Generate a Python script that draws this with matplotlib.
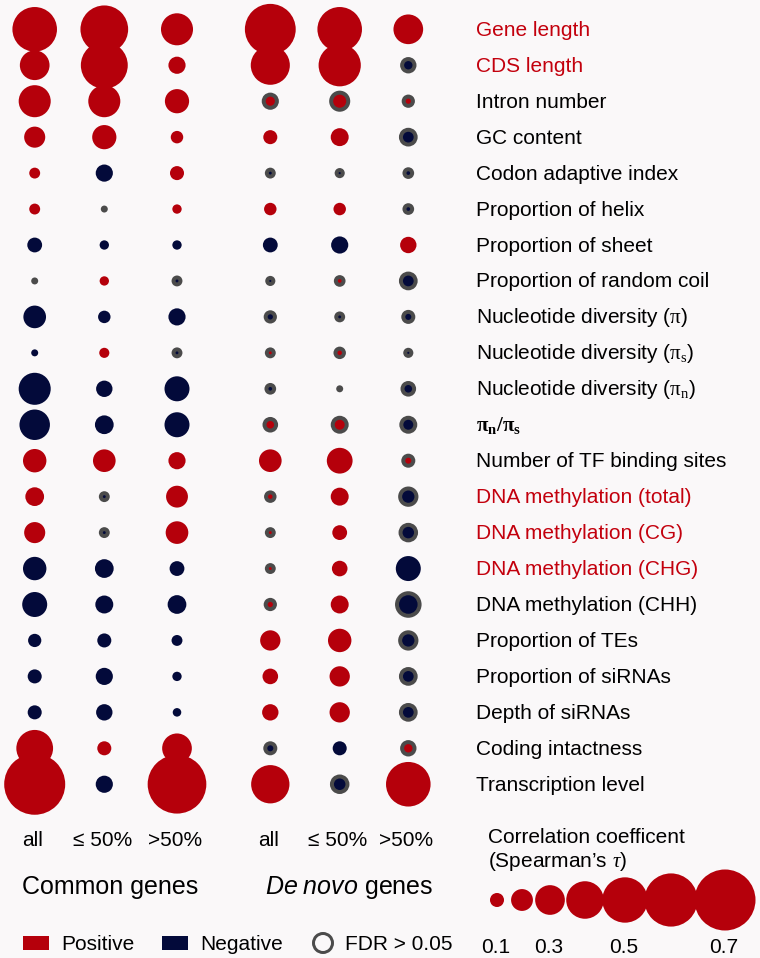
import numpy as np
import matplotlib.pyplot as plt
from matplotlib.patches import Rectangle

plt.rcParams['font.family'] = ['Liberation Sans', 'DejaVu Sans']
plt.rcParams['mathtext.fontset'] = 'custom'
plt.rcParams['mathtext.rm'] = 'Liberation Serif'
plt.rcParams['mathtext.it'] = 'Liberation Serif:italic'
plt.rcParams['mathtext.bf'] = 'Liberation Serif:bold'
plt.rcParams['mathtext.sf'] = 'Liberation Sans:italic'

# ---- data ----
features = ['Gene length', 'CDS length', 'Intron number', 'GC content',
            'Codon adaptive index', 'Proportion of helix', 'Proportion of sheet',
            'Proportion of random coil', r'Nucleotide diversity ($\mathrm{\pi}$)',
            r'Nucleotide diversity ($\mathrm{\pi_s}$)',
            r'Nucleotide diversity ($\mathrm{\pi_n}$)',
            r'$\mathbf{\pi_n/\pi_s}$', 'Number of TF binding sites',
            'DNA methylation (total)', 'DNA methylation (CG)', 'DNA methylation (CHG)',
            'DNA methylation (CHH)', 'Proportion of TEs', 'Proportion of siRNAs',
            'Depth of siRNAs', 'Coding intactness', 'Transcription level']
red_features = [0, 1, 13, 14, 15]
column_labels = ['all', '≤ 50%', '>50%', 'all', '≤ 50%', '>50%']
group_labels = ['Common genes', r'$\mathsf{De\ novo}$ genes']

# Spearman's tau, one list per column (rows follow `features`)
common_all = [0.49, 0.30, 0.33, 0.19, 0.06, 0.06, -0.11, -0.01, -0.21, -0.01, -0.33,
              -0.31, 0.22, 0.16, 0.19, -0.22, -0.24, -0.09, -0.10, -0.10, 0.39, 0.70]
common_le50 = [0.53, 0.52, 0.33, 0.23, -0.14, -0.01, -0.04, 0.04, -0.08, 0.05, -0.13,
               -0.16, 0.21, -0.06, -0.06, -0.16, -0.15, -0.10, -0.14, -0.13, 0.10, -0.14]
common_gt50 = [0.33, 0.14, 0.23, 0.08, 0.10, 0.04, -0.04, -0.06, -0.14, -0.06, -0.24,
               -0.24, 0.14, 0.20, 0.21, -0.11, -0.16, -0.06, -0.04, -0.03, 0.30, 0.67]
denovo_all = [0.57, 0.42, 0.14, 0.10, -0.06, 0.08, -0.11, -0.05, -0.09, 0.06, -0.07,
              0.12, 0.21, 0.08, 0.06, 0.06, 0.09, 0.18, 0.12, 0.13, -0.10, 0.41]
denovo_le50 = [0.49, 0.46, 0.19, 0.15, -0.05, 0.08, -0.14, 0.07, -0.06, 0.08, -0.01,
               0.15, 0.25, 0.15, 0.11, 0.12, 0.15, 0.22, 0.18, 0.18, -0.10, -0.17]
denovo_gt50 = [0.30, -0.13, 0.09, -0.16, -0.07, -0.07, 0.13, -0.16, -0.10, -0.05, -0.12,
               -0.15, 0.10, -0.18, -0.17, -0.24, -0.26, -0.18, -0.16, -0.16, 0.13, 0.49]

# FDR > 0.05 flags (1 = not significant)
fdr_common_all = [0, 0, 0, 0, 0, 0, 0, 1, 0, 0, 0, 0, 0, 0, 0, 0, 0, 0, 0, 0, 0, 0]
fdr_common_le50 = [0, 0, 0, 0, 0, 1, 0, 0, 0, 0, 0, 0, 0, 1, 1, 0, 0, 0, 0, 0, 0, 0]
fdr_common_gt50 = [0, 0, 0, 0, 0, 0, 0, 1, 0, 1, 0, 0, 0, 0, 0, 0, 0, 0, 0, 0, 0, 0]
fdr_denovo_all = [0, 0, 1, 0, 1, 0, 0, 1, 1, 1, 1, 1, 0, 1, 1, 1, 1, 0, 0, 0, 1, 0]
fdr_denovo_le50 = [0, 0, 1, 0, 1, 0, 0, 1, 1, 1, 1, 1, 0, 0, 0, 0, 0, 0, 0, 0, 0, 1]
fdr_denovo_gt50 = [0, 1, 1, 1, 1, 1, 0, 1, 1, 1, 1, 1, 1, 1, 1, 0, 1, 1, 1, 1, 1, 0]

legend_tau = [0.1, 0.2, 0.3, 0.4, 0.5, 0.6, 0.7]
legend_tick_labels = ['0.1', '', '0.3', '', '0.5', '', '0.7']

# ---- style ----
RED = '#b5000b'
NAVY = '#030a3a'
GRAY = '#4b4b4b'
BG = '#faf8f9'
LABEL_RED = '#c3000d'
FS = 15

tau = np.array([common_all, common_le50, common_gt50,
                denovo_all, denovo_le50, denovo_gt50]).T
fdr = np.array([fdr_common_all, fdr_common_le50, fdr_common_gt50,
                fdr_denovo_all, fdr_denovo_le50, fdr_denovo_gt50]).T.astype(bool)


def diam(t):
    # circle diameter in pixels for a given |tau|
    return 6.2 + 78.3 * np.abs(t)


def msize(d):
    # scatter size (pt^2) from a pixel diameter at 100 dpi
    return (np.clip(d, 0, None) * 0.72) ** 2


fig = plt.figure(figsize=(7.6, 9.58), dpi=100, facecolor=BG)
ax = fig.add_axes([0, 0, 1, 1])
ax.set_xlim(0, 760)
ax.set_ylim(958, 0)
ax.axis('off')
ax.set_facecolor(BG)

col_x = np.array([34.7, 104.3, 177.0, 270.3, 339.7, 408.3])
row_y = 29.3 + 35.95 * np.arange(len(features))

X, Y = np.meshgrid(col_x, row_y)
D = diam(tau)
colors = np.where(tau > 0, RED, NAVY)

sig = ~fdr
ax.scatter(X[sig], Y[sig], s=msize(D[sig]), c=colors[sig], linewidths=0, zorder=2)
# non-significant: grey disc with a smaller coloured core
ax.scatter(X[fdr], Y[fdr], s=msize(D[fdr]), c=GRAY, linewidths=0, zorder=3)
ax.scatter(X[fdr], Y[fdr], s=msize(D[fdr] - 8), c=colors[fdr], linewidths=0, zorder=4)

# row labels
for i, name in enumerate(features):
    ax.text(476, row_y[i] + 6.5, name, fontsize=FS, va='baseline', ha='left',
            color=LABEL_RED if i in red_features else 'black')

# column labels and groups
for x, lab in zip(col_x, column_labels):
    ax.text(x - 2, 846, lab, fontsize=FS, ha='center', va='baseline')
ax.text(22, 894, group_labels[0], fontsize=18, ha='left', va='baseline')
ax.text(265, 894, group_labels[1], fontsize=18, ha='left', va='baseline')

# colour legend
ax.add_patch(Rectangle((23, 936), 26, 14, color=RED, lw=0))
ax.text(61, 950, 'Positive', fontsize=FS, va='baseline')
ax.add_patch(Rectangle((162, 936), 26, 14, color=NAVY, lw=0))
ax.text(200, 950, 'Negative', fontsize=FS, va='baseline')
ax.scatter([323], [943], s=msize(19), facecolors='none', edgecolors=GRAY,
           linewidths=3 * 0.72)
ax.text(345, 950, 'FDR > 0.05', fontsize=FS, va='baseline')

# size legend
ax.text(488, 843, 'Correlation coefficent', fontsize=FS, va='baseline')
ax.text(488, 867, r'(Spearman’s $\mathit{\tau}$)', fontsize=FS, va='baseline')
legend_x = np.array([497, 522, 550, 585, 625, 671, 725])
ax.scatter(legend_x, np.full(len(legend_tau), 900.0), s=msize(diam(np.array(legend_tau))),
           c=RED, linewidths=0)
for x, lab in zip(legend_x, legend_tick_labels):
    if lab:
        ax.text(x - 1, 953, lab, fontsize=FS, ha='center', va='baseline')

fig.savefig('out.png', dpi=100, facecolor=BG)
